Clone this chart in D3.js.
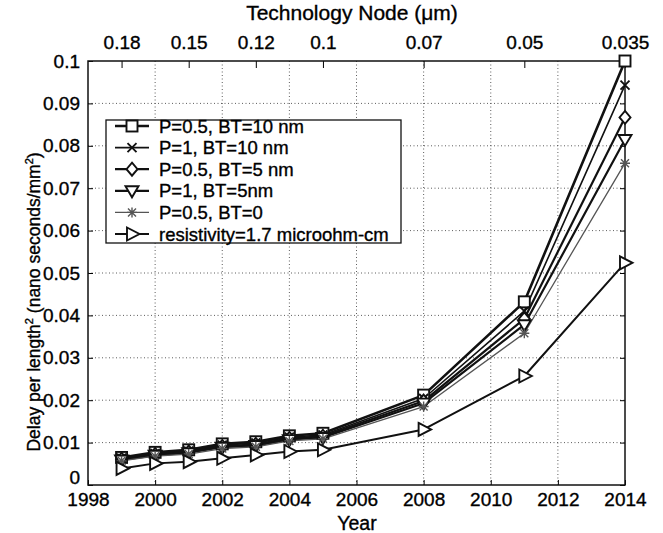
<!DOCTYPE html>
<meta charset="utf-8">
<style>
body { margin: 0; background: #fff; }
text { font-family: 'Liberation Sans', Arial, Helvetica, sans-serif; fill: #000; stroke: #000; stroke-width: 0.35px; }
.grid line { stroke: #333; stroke-width: 0.8; stroke-dasharray: 1,2.5; }
</style>
<body>
<svg width="663" height="533"></svg>
<script src="https://d3js.org/d3.v7.min.js"></script>
<script>

// data
var years = [1999, 2000, 2001, 2002, 2003, 2004, 2005, 2008, 2011, 2014];
var p05bt10 = [0.0065, 0.0077, 0.0083, 0.0097, 0.0102, 0.0116, 0.0122, 0.0212, 0.0432, 0.1];
var p1bt10  = [0.0063, 0.0074, 0.0080, 0.0094, 0.0099, 0.0113, 0.0118, 0.0204, 0.0410, 0.0943];
var p05bt5  = [0.0061, 0.0072, 0.0078, 0.0091, 0.0096, 0.0110, 0.0115, 0.0198, 0.0392, 0.0867];
var p1bt5   = [0.0059, 0.0070, 0.0076, 0.0089, 0.0093, 0.0107, 0.0112, 0.0193, 0.0378, 0.0815];
var p05bt0  = [0.0057, 0.0068, 0.0073, 0.0086, 0.0090, 0.0104, 0.0109, 0.0185, 0.0358, 0.0759];
var resist  = [0.0039, 0.0051, 0.0055, 0.0063, 0.0071, 0.0079, 0.0083, 0.0131, 0.0257, 0.0524];

var seriesNames = ["P=0.5, BT=10 nm", "P=1, BT=10 nm", "P=0.5, BT=5 nm", "P=1, BT=5nm", "P=0.5, BT=0", "resistivity=1.7 microohm-cm"];

var nodeYears = [1999, 2001, 2003, 2005, 2008, 2011, 2014];
var nodeLabels = ["0.18", "0.15", "0.12", "0.1", "0.07", "0.05", "0.035"];

var xTicks = [1998, 2000, 2002, 2004, 2006, 2008, 2010, 2012, 2014];
var yTicks = [0, 0.01, 0.02, 0.03, 0.04, 0.05, 0.06, 0.07, 0.08, 0.09, 0.1];

var series = [
  {name: seriesNames[0], values: p05bt10, marker: "square", width: 2.6, color: "#111"},
  {name: seriesNames[1], values: p1bt10,  marker: "x",      width: 1.6, color: "#111"},
  {name: seriesNames[2], values: p05bt5,  marker: "diamond", width: 2.2, color: "#111"},
  {name: seriesNames[3], values: p1bt5,   marker: "tridown", width: 2.2, color: "#111"},
  {name: seriesNames[4], values: p05bt0,  marker: "star",   width: 1.3, color: "#555"},
  {name: seriesNames[5], values: resist,  marker: "triright", width: 2.0, color: "#111"}
];

var svg = d3.select("svg");
var pL = 88, pR = 625, pT = 61, pB = 485;

var x = d3.scaleLinear().domain([1998, 2014]).range([pL, pR]);
var y = d3.scaleLinear().domain([0, 0.1]).range([pB, pT]);

// grid
var grid = svg.append("g").attr("class", "grid");
grid.selectAll(".gx").data(xTicks.slice(1, -1)).enter().append("line")
    .attr("x1", function(d) { return x(d); }).attr("x2", function(d) { return x(d); })
    .attr("y1", pT).attr("y2", pB);
grid.selectAll(".gy").data(yTicks.slice(1, -1)).enter().append("line")
    .attr("y1", function(d) { return y(d); }).attr("y2", function(d) { return y(d); })
    .attr("x1", pL).attr("x2", pR);

// axes
svg.append("g").attr("transform", "translate(0," + pB + ")")
    .call(d3.axisBottom(x).tickValues(xTicks).tickFormat(d3.format("d")).tickSizeInner(-5).tickSizeOuter(0).tickPadding(8))
    .call(function(g) { g.select(".domain").remove(); g.selectAll("text").attr("font-size", 19).attr("fill", "#000"); });

svg.append("g").attr("transform", "translate(" + pL + ",0)")
    .call(d3.axisLeft(y).tickValues(yTicks).tickFormat(function(d) { return d === 0 ? "0" : String(+d.toFixed(2)); }).tickSizeInner(-5).tickSizeOuter(0).tickPadding(8))
    .call(function(g) {
      g.select(".domain").remove();
      g.selectAll("text").attr("font-size", 19).attr("fill", "#000");
      g.selectAll(".tick text").filter(function(d) { return d === 0; }).attr("dy", "-0.1em");
    });

svg.append("g").attr("transform", "translate(" + pR + ",0)")
    .call(d3.axisRight(y).tickValues(yTicks).tickSizeInner(-5).tickSizeOuter(0).tickFormat(""))
    .call(function(g) { g.select(".domain").remove(); });

svg.append("g").attr("transform", "translate(0," + pT + ")")
    .call(d3.axisTop(x).tickValues(nodeYears).tickFormat(function(d, i) { return nodeLabels[i]; }).tickSizeInner(-7).tickSizeOuter(0).tickPadding(12))
    .call(function(g) { g.select(".domain").remove(); g.selectAll("text").attr("font-size", 19).attr("fill", "#000"); });

svg.append("rect").attr("x", pL).attr("y", pT).attr("width", pR - pL).attr("height", pB - pT)
    .attr("fill", "none").attr("stroke", "#111").attr("stroke-width", 1.5);

// titles
svg.append("text").attr("x", 352).attr("y", 20).attr("text-anchor", "middle").attr("font-size", 21)
    .text("Technology Node (\u03bcm)");
svg.append("text").attr("x", 357).attr("y", 530).attr("text-anchor", "middle").attr("font-size", 19.5)
    .text("Year");
var yl = svg.append("text").attr("transform", "translate(40,302) rotate(-90)").attr("text-anchor", "middle").attr("font-size", 17.5);
yl.append("tspan").text("Delay per length");
yl.append("tspan").attr("font-size", 11).attr("dy", -7).text("2");
yl.append("tspan").attr("dy", 7).text(" (nano seconds/mm");
yl.append("tspan").attr("font-size", 11).attr("dy", -7).text("2");
yl.append("tspan").attr("dy", 7).text(")");

// markers
function drawMarker(g, type, cx, cy, color) {
  var m = g.append("g").attr("transform", "translate(" + cx + "," + cy + ")")
      .attr("fill", "none").attr("stroke", color).attr("stroke-width", 1.9);
  if (type === "square") m.append("rect").attr("x", -5.5).attr("y", -5.5).attr("width", 11).attr("height", 11).attr("fill", "#fff");
  if (type === "x") m.append("path").attr("d", "M-4.5,-4.5L4.5,4.5M-4.5,4.5L4.5,-4.5");
  if (type === "diamond") m.append("path").attr("d", "M0,-6.5L5.5,0L0,6.5L-5.5,0Z").attr("fill", "#fff");
  if (type === "tridown") m.append("path").attr("d", "M-6.5,-4.5L6.5,-4.5L0,6.5Z").attr("fill", "#fff");
  if (type === "star") m.append("path").attr("d", "M-5,0L5,0M0,-5L0,5M-4,-4L4,4M-4,4L4,-4").attr("stroke-width", 1.4);
  if (type === "triright") m.append("path").attr("d", "M-5,-6.5L7.5,0L-5,6.5Z").attr("fill", "#fff");
}

var line = d3.line().x(function(d) { return x(d[0]); }).y(function(d) { return y(d[1]); });

series.forEach(function(s) {
  var pts = years.map(function(yr, i) { return [yr, s.values[i]]; });
  svg.append("path").datum(pts).attr("d", line).attr("fill", "none")
      .attr("stroke", s.color).attr("stroke-width", s.width).attr("stroke-linejoin", "round");
});
series.forEach(function(s) {
  var g = svg.append("g");
  years.forEach(function(yr, i) { drawMarker(g, s.marker, x(yr), y(s.values[i]), s.color); });
});

// legend
var lg = svg.append("g");
lg.append("rect").attr("x", 106).attr("y", 120).attr("width", 295).attr("height", 123)
    .attr("fill", "#fff").attr("stroke", "#111").attr("stroke-width", 1.3);
series.forEach(function(s, i) {
  var ry = 126 + i * 21.6;
  lg.append("line").attr("x1", 115).attr("x2", 149).attr("y1", ry).attr("y2", ry)
      .attr("stroke", s.color).attr("stroke-width", s.width);
  drawMarker(lg, s.marker, 132, ry, s.color);
  lg.append("text").attr("x", 159).attr("y", ry + 6.5).attr("font-size", 18.5).text(s.name);
});

</script>
</body>
